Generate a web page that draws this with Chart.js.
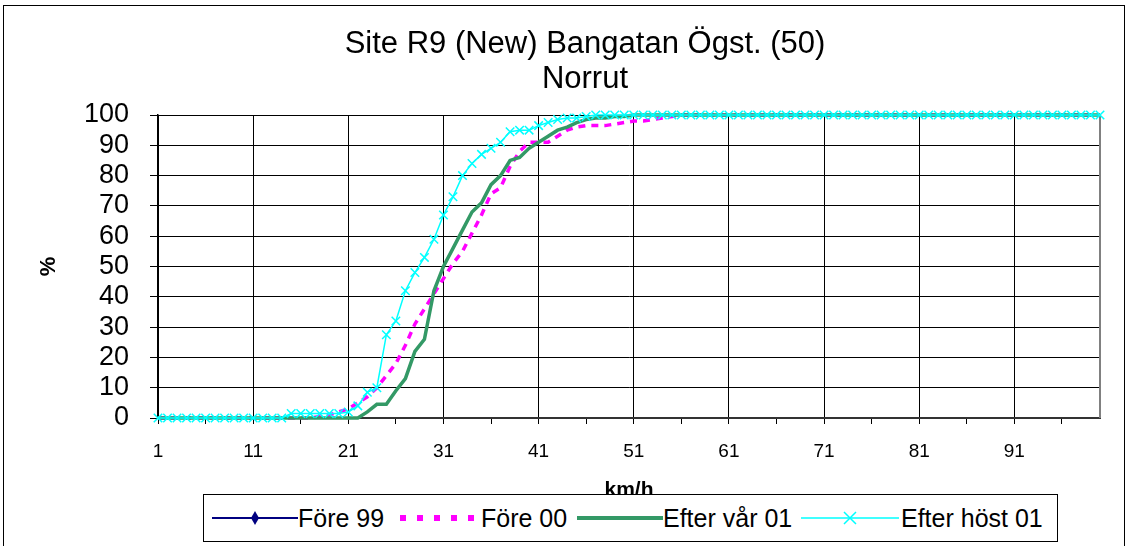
<!DOCTYPE html>
<html>
<head>
<meta charset="utf-8">
<script src="https://cdn.jsdelivr.net/npm/chart.js@4"></script>
<style>
  html, body { margin: 0; padding: 0; background: #fff; }
  body { width: 1130px; height: 546px; position: relative; overflow: hidden;
         font-family: "Liberation Sans", Arial, sans-serif; }
  #frame { position: absolute; left: 3px; top: 5px; width: 1122px; height: 600px;
           border: 1px solid #000; box-sizing: border-box; }
  #chart { position: absolute; left: 0; top: 0; }
  #title { position: absolute; left: 235px; width: 700px; top: 25px; text-align: center;
           font-size: 31px; line-height: 35px; color: #000; }
  #legend { position: absolute; left: 203px; top: 494px; width: 855px; height: 48px;
            border: 1px solid #000; box-sizing: border-box; background: #fff; }
  #legend canvas, #legend span { position: absolute; }
  #legend span { font-size: 25px; line-height: 30px; top: 8px; white-space: nowrap; color: #000; }
</style>
</head>
<body>
<div id="frame"></div>
<canvas id="chart" width="1130" height="546"></canvas>
<div id="title">Site R9 (New) Bangatan Ögst. (50)<br>Norrut</div>
<div id="legend"></div>

<script>
// ── Data ──────────────────────────────────────
const speeds = [
  1, 2, 3, 4, 5, 6, 7, 8, 9, 10,
  11, 12, 13, 14, 15, 16, 17, 18, 19, 20,
  21, 22, 23, 24, 25, 26, 27, 28, 29, 30,
  31, 32, 33, 34, 35, 36, 37, 38, 39, 40,
  41, 42, 43, 44, 45, 46, 47, 48, 49, 50,
  51, 52, 53, 54, 55, 56, 57, 58, 59, 60,
  61, 62, 63, 64, 65, 66, 67, 68, 69, 70,
  71, 72, 73, 74, 75, 76, 77, 78, 79, 80,
  81, 82, 83, 84, 85, 86, 87, 88, 89, 90,
  91, 92, 93, 94, 95, 96, 97, 98, 99, 100,
];

const yTicks = [0, 10, 20, 30, 40, 50, 60, 70, 80, 90, 100];

const fore99 = [];

const fore00 = [
  0, 0, 0, 0, 0, 0, 0, 0, 0, 0,
  0, 0, 0, 0, 0, 0, 0, 0.5, 1, 2,
  3, 5, 7, 10, 14, 18, 24, 31, 36, 41,
  46, 51, 55, 61, 67, 74, 76, 83, 88, 91,
  91, 91, 93, 95, 96, 96.5, 96.5, 96.5, 97, 97.5,
  98, 98, 98.5, 99, 99.5, 100, 100, 100, 100, 100,
  100, 100, 100, 100, 100, 100, 100, 100, 100, 100,
  100, 100, 100, 100, 100, 100, 100, 100, 100, 100,
  100, 100, 100, 100, 100, 100, 100, 100, 100, 100,
  100, 100, 100, 100, 100, 100, 100, 100, 100, 100,
];

const efterVar01 = [
  0, 0, 0, 0, 0, 0, 0, 0, 0, 0,
  0, 0, 0, 0, 0, 0, 0, 0, 0, 0,
  0, 0, 2, 4.5, 4.5, 9, 13, 22, 26, 42,
  50, 56, 62, 68, 71, 77, 80, 85, 86, 89,
  91, 93, 95, 96, 97.5, 98.5, 99, 99, 99.5, 99.5,
  100, 100, 100, 100, 100, 100, 100, 100, 100, 100,
  100, 100, 100, 100, 100, 100, 100, 100, 100, 100,
  100, 100, 100, 100, 100, 100, 100, 100, 100, 100,
  100, 100, 100, 100, 100, 100, 100, 100, 100, 100,
  100, 100, 100, 100, 100, 100, 100, 100, 100, 100,
];

const efterHost01 = [
  0, 0, 0, 0, 0, 0, 0, 0, 0, 0,
  0, 0, 0, 0, 1.5, 1.5, 1.5, 1.5, 1.5, 1.5,
  2, 4, 8.5, 10, 27.5, 32, 42, 48, 53, 59,
  67, 73, 80, 84, 87, 89, 91, 94.5, 95, 95,
  96.5, 97.5, 98.5, 99, 99, 99.5, 100, 100, 100, 100,
  100, 100, 100, 100, 100, 100, 100, 100, 100, 100,
  100, 100, 100, 100, 100, 100, 100, 100, 100, 100,
  100, 100, 100, 100, 100, 100, 100, 100, 100, 100,
  100, 100, 100, 100, 100, 100, 100, 100, 100, 100,
  100, 100, 100, 100, 100, 100, 100, 100, 100, 100,
];

const NAVY = '#000080', MAGENTA = '#FF00FF', GREEN = '#339966', CYAN = '#00FFFF';
const FONT = '"Liberation Sans", Arial, sans-serif';

// ── Plot border on the right side ─────────
const plotBorder = {
  id: 'plotBorder',
  beforeDatasetsDraw(chart) {
    const { ctx, chartArea: a } = chart;
    ctx.save();
    ctx.strokeStyle = '#808080';
    ctx.lineWidth = 2;
    ctx.beginPath();
    ctx.moveTo(a.right, a.top);
    ctx.lineTo(a.right, a.bottom);
    ctx.stroke();
    ctx.restore();
  },
};

new Chart(document.getElementById('chart'), {
  type: 'line',
  data: {
    labels: speeds,
    datasets: [
      { label: 'Före 99', data: fore99, borderColor: NAVY, backgroundColor: NAVY, borderWidth: 2,
        pointStyle: 'rectRot', pointRadius: 5, order: 3 },
      { label: 'Före 00', data: fore00, borderColor: MAGENTA, borderWidth: 3.5, borderDash: [7, 6],
        pointRadius: 0, order: 2 },
      { label: 'Efter vår 01', data: efterVar01, borderColor: GREEN, borderWidth: 3.5,
        pointRadius: 0, order: 1 },
      { label: 'Efter höst 01', data: efterHost01, borderColor: CYAN, borderWidth: 1.5,
        pointStyle: 'crossRot', pointRadius: 6, pointBorderWidth: 1.5, pointBorderColor: CYAN, order: 0 },
    ].map(d => ({ ...d, tension: 0, fill: false, clip: false })),
  },
  options: {
    responsive: false,
    animation: false,
    devicePixelRatio: 1,
    layout: { padding: { left: 36, right: 30, top: 115, bottom: 43 } },
    plugins: { legend: { display: false }, title: { display: false }, tooltip: { enabled: false } },
    scales: {
      x: {
        type: 'category',
        offset: false,
        afterFit: s => { s.height = 85; },
        grid: {
          color: c => (c.index % 10 === 0 ? '#000' : 'transparent'),
          tickColor: c => (c.index % 5 === 0 ? '#000' : 'transparent'),
          tickLength: 6, lineWidth: 1,
        },
        border: { color: '#333', width: 2 },
        ticks: {
          autoSkip: false, maxRotation: 0, padding: 16, color: '#000',
          font: { family: FONT, size: 19 },
          callback(value, index) { return index % 10 === 0 ? this.getLabelForValue(value) : ''; },
        },
        title: { display: true, text: 'km/h', color: '#000', padding: 0,
                 font: { family: FONT, size: 21, weight: 'bold' } },
      },
      y: {
        min: 0, max: 100,
        afterFit: s => { s.width = 122; },
        afterBuildTicks: s => { s.ticks = yTicks.map(v => ({ value: v })); },
        grid: { color: '#000', lineWidth: 1, tickLength: 8, tickColor: '#000' },
        border: { color: '#000', width: 1.5 },
        ticks: { autoSkip: false, padding: 21, color: '#000', font: { family: FONT, size: 27 } },
        title: { display: true, text: '%', color: '#000', padding: 0,
                 font: { family: FONT, size: 22, weight: 'bold' } },
      },
    },
  },
  plugins: [plotBorder],
});

// ── HTML legend with drawn symbols ────────
const legendItems = [
  { text: 'Före 99',       sym: 8,   w: 86, txt: 94,  kind: 'navy' },
  { text: 'Före 00',       sym: 192, w: 82, txt: 277, kind: 'magenta' },
  { text: 'Efter vår 01',  sym: 373, w: 86, txt: 459, kind: 'green' },
  { text: 'Efter höst 01', sym: 597, w: 98, txt: 697, kind: 'cyan' },
];

const legend = document.getElementById('legend');
legendItems.forEach(it => {
  const cv = document.createElement('canvas');
  cv.width = it.w; cv.height = 20;
  cv.style.left = it.sym + 'px';
  cv.style.top = '13px';
  const g = cv.getContext('2d');
  const mid = 10;
  if (it.kind === 'navy') {
    g.strokeStyle = NAVY; g.lineWidth = 2;
    g.beginPath(); g.moveTo(0, mid); g.lineTo(it.w, mid); g.stroke();
    g.fillStyle = NAVY;
    g.beginPath(); g.moveTo(it.w / 2, mid - 7); g.lineTo(it.w / 2 + 4, mid);
    g.lineTo(it.w / 2, mid + 7); g.lineTo(it.w / 2 - 4, mid); g.closePath(); g.fill();
  } else if (it.kind === 'magenta') {
    g.fillStyle = MAGENTA;
    for (let x = 4; x < it.w - 2; x += 17) g.fillRect(x, mid - 3, 6, 6);
  } else if (it.kind === 'green') {
    g.strokeStyle = GREEN; g.lineWidth = 4;
    g.beginPath(); g.moveTo(0, mid); g.lineTo(it.w, mid); g.stroke();
  } else {
    g.strokeStyle = CYAN; g.lineWidth = 1.5;
    g.beginPath(); g.moveTo(0, mid); g.lineTo(it.w, mid); g.stroke();
    const cx = it.w / 2;
    g.beginPath();
    g.moveTo(cx - 6, mid - 6); g.lineTo(cx + 6, mid + 6);
    g.moveTo(cx + 6, mid - 6); g.lineTo(cx - 6, mid + 6);
    g.stroke();
  }
  legend.appendChild(cv);

  const sp = document.createElement('span');
  sp.textContent = it.text;
  sp.style.left = it.txt + 'px';
  legend.appendChild(sp);
});
</script>
</body>
</html>
